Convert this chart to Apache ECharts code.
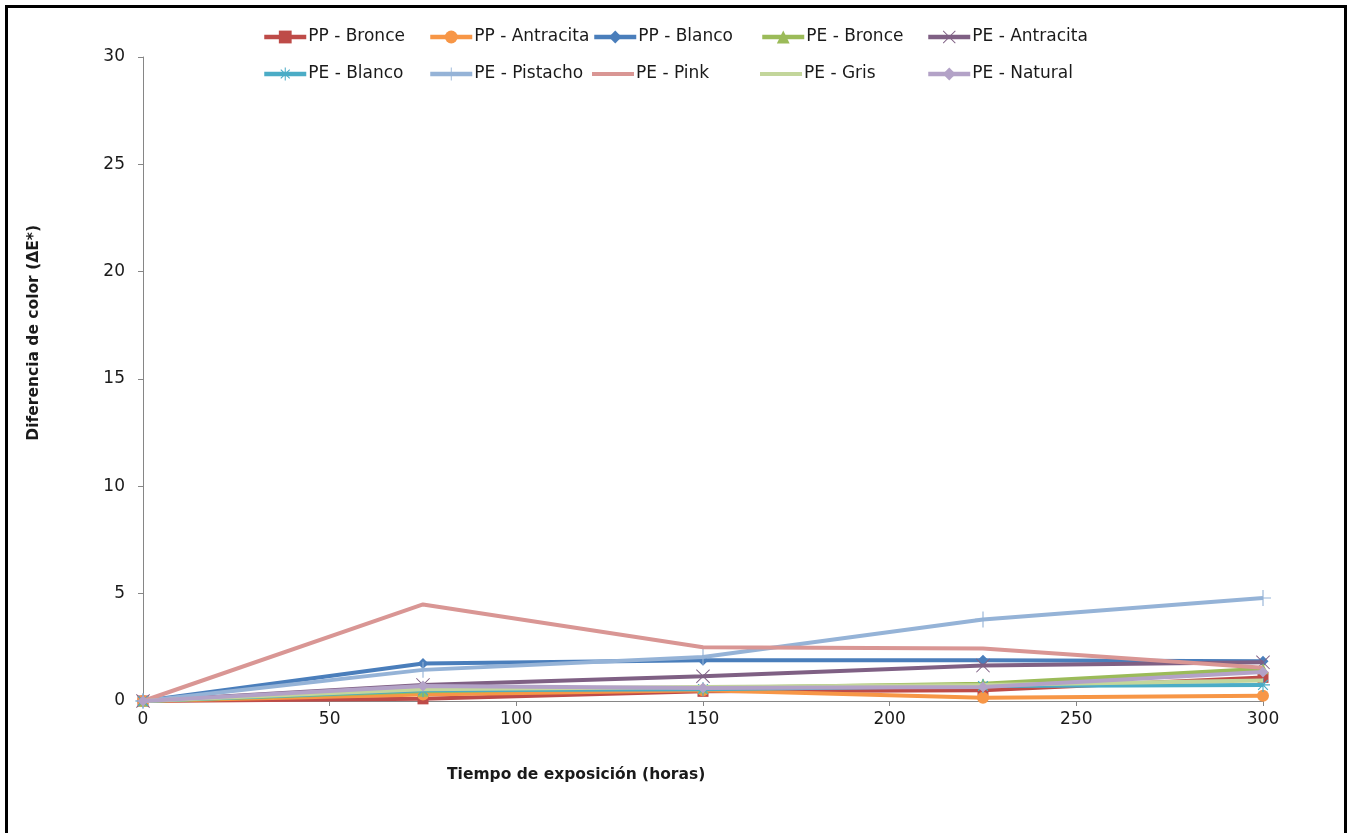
<!DOCTYPE html>
<html>
<head>
<meta charset="utf-8">
<script src="https://cdn.jsdelivr.net/npm/echarts@6/dist/echarts.min.js"></script>
<style>
html,body{margin:0;padding:0;background:#fff;overflow:hidden;}
#frame{position:absolute;left:5px;top:5px;width:1336px;height:900px;border:3px solid #000;}
#chart{position:absolute;left:0;top:0;width:1351px;height:833px;}
</style>
</head>
<body>
<div id="frame"></div>
<div id="chart"></div>
<script>
var hours = [0, 75, 150, 225, 300];
var seriesNames = ['PP - Bronce','PP - Antracita','PP - Blanco','PE - Bronce','PE - Antracita','PE - Blanco','PE - Pistacho','PE - Pink','PE - Gris','PE - Natural'];
var ppBronce     = [0, 0.1, 0.45, 0.5, 1.1];
var ppAntracita  = [0, 0.3, 0.5, 0.15, 0.25];
var ppBlanco     = [0, 1.75, 1.9, 1.9, 1.85];
var peBronce     = [0, 0.45, 0.6, 0.8, 1.5];
var peAntracita  = [0, 0.75, 1.15, 1.65, 1.8];
var peBlanco     = [0, 0.5, 0.55, 0.7, 0.75];
var pePistacho   = [0, 1.45, 2.05, 3.8, 4.8];
var pePink       = [0, 4.5, 2.5, 2.45, 1.55];
var peGris       = [0, 0.55, 0.65, 0.75, 0.95];
var peNatural    = [0, 0.7, 0.6, 0.65, 1.35];
var yTicks = [0, 5, 10, 15, 20, 25, 30];
var xTicks = [0, 50, 100, 150, 200, 250, 300];

var values = [ppBronce, ppAntracita, ppBlanco, peBronce, peAntracita, peBlanco, pePistacho, pePink, peGris, peNatural];
var colors = ['#BE4B48','#F79646','#4A7EBB','#9BBB59','#7F6084','#4BACC6','#95B3D7','#D99694','#C3D69B','#B3A2C7'];
var PLUS = 'path://M9.3,0H10.7V9.3H20V10.7H10.7V20H9.3V10.7H0V9.3H9.3Z';
var XS = 'path://M1,0L10,9L19,0L20,1L11,10L20,19L19,20L10,11L1,20L0,19L9,10L0,1Z';
var STAR = 'path://M9.2,0H10.8V8L16.4,2.4L17.6,3.6L12,9.2H20V10.8H12L17.6,16.4L16.4,17.6L10.8,12V20H9.2V12L3.6,17.6L2.4,16.4L8,10.8H0V9.2H8L2.4,3.6L3.6,2.4L9.2,8Z';
var LINEICON = 'path://M0,0H42V4H0Z';
var symbols = ['rect','circle','diamond','triangle',XS,STAR,PLUS,'none','none','diamond'];
var sizes = [11,12,11,11,14,14,16,0,0,11];

var FONT = 'DejaVu Sans';
var series = seriesNames.map(function(n,i){
  return {
    name: n, type: 'line',
    data: hours.map(function(h,j){ return [h, values[i][j]]; }),
    symbol: symbols[i], symbolSize: sizes[i],
    showSymbol: symbols[i] !== 'none',
    lineStyle: {width: 4, color: colors[i]},
    itemStyle: {color: colors[i]},
    emphasis: {disabled: true},
    z: 2 + i
  };
});

var legendCols = [262, 428, 592, 760, 926];
var legendRows = [27, 64];
var legends = seriesNames.map(function(n,i){
  var item = {name: n};
  if (symbols[i] === 'none') item.icon = LINEICON;
  return {
    orient: 'horizontal', left: legendCols[i % 5], top: legendRows[Math.floor(i/5)],
    padding: 0, itemWidth: 42, itemHeight: 16,
    lineStyle: {width: 4.5},
    data: [item],
    textStyle: {fontFamily: FONT, fontSize: 17, lineHeight: 20, color: '#1a1a1a', padding: [0,0,0,-3]},
    selectedMode: false
  };
});

var chart = echarts.init(document.getElementById('chart'));
chart.setOption({
  animation: false,
  backgroundColor: 'transparent',
  color: colors,
  legend: legends,
  grid: {left: 143, right: 88, top: 57, bottom: 132},
  xAxis: {
    type: 'value', min: xTicks[0], max: xTicks[xTicks.length-1], interval: 50,
    axisLine: {show: true, lineStyle: {color: '#868686', width: 1}},
    axisTick: {show: true, length: 5, lineStyle: {color: '#868686'}},
    splitLine: {show: false},
    axisLabel: {fontFamily: FONT, fontSize: 17, color: '#1a1a1a', margin: 10}
  },
  yAxis: {
    type: 'value', min: yTicks[0], max: yTicks[yTicks.length-1], interval: 5,
    axisLine: {show: true, lineStyle: {color: '#868686', width: 1}},
    axisTick: {show: true, length: 5, lineStyle: {color: '#868686'}},
    splitLine: {show: false},
    axisLabel: {fontFamily: FONT, fontSize: 17, color: '#1a1a1a', margin: 18}
  },
  graphic: [
    {type: 'text', left: 26, top: 225, rotation: Math.PI/2,
     style: {text: 'Diferencia de color (ΔE*)', font: 'bold 15.5px "DejaVu Sans"', fill: '#1a1a1a'}},
    {type: 'text', left: 447, top: 767,
     style: {text: 'Tiempo de exposición (horas)', font: 'bold 15.5px "DejaVu Sans"', fill: '#1a1a1a'}}
  ],
  series: series
});
</script>
</body>
</html>
